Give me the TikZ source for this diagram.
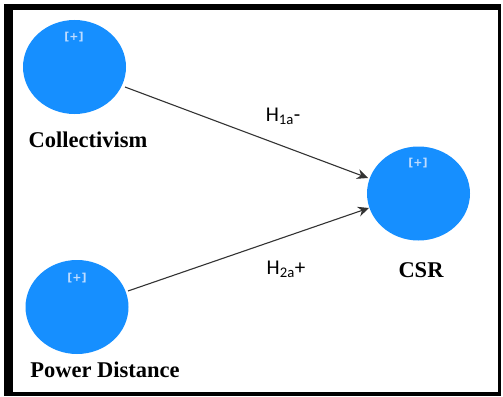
\documentclass[tikz,border=0pt]{standalone}
\usepackage{fontspec}
\setmainfont{Liberation Serif}
\newfontfamily\calib{Carlito}
\newfontfamily\dejav{DejaVu Sans}
\usetikzlibrary{arrows.meta,shapes.geometric}
\definecolor{lvblue}{RGB}{22,143,255}
\definecolor{plus}{RGB}{190,220,255}
\tikzset{
  lv/.style={ellipse, draw=none, fill=lvblue, minimum width=103pt, minimum height=94pt, inner sep=0pt},
  lvname/.style={font=\fontsize{22.5}{26}\selectfont\bfseries, text=black, inner sep=0pt},
  plusmark/.style={font=\dejav\fontsize{11}{13}\selectfont\bfseries, text=plus, inner sep=0pt},
  hyp/.style={font=\calib\fontsize{21}{24}\selectfont, inner sep=0pt},
  relpath/.style={draw=black!80, line width=1.1pt, -{Stealth[length=11pt,width=10pt]}}
}
\begin{document}
\begin{tikzpicture}[x=1pt,y=-1pt]
\useasboundingbox (0,0) rectangle (503,396);
\fill[black] (4,4) rectangle (501,396);
\fill[white] (13,10) rectangle (498,392);
\node[lv] (col) at (74.5,67) {};
\node[lv] (pd) at (77,307) {};
\node[lv] (csr) at (418.5,193.5) {};
\node[plusmark] (pcol) at (74,37) {[+]};
\node[plusmark] (ppd) at (77,278) {[+]};
\node[plusmark] (pcsr) at (418,163) {[+]};
\node[lvname] (tcol) at (88,140) {Collectivism};
\node[lvname] (tpd) at (105,370) {Power Distance};
\node[lvname] (tcsr) at (421,270) {CSR};
\coordinate (a1) at (125,87);
\coordinate (a2) at (368,178);
\coordinate (b1) at (128,291);
\coordinate (b2) at (369,208);
\draw[relpath] (a1) -- (a2);
\draw[relpath] (b1) -- (b2);
\node[hyp] (h1) at (283,116) {H\textsubscript{1a}-};
\node[hyp] (h2) at (286,269) {H\textsubscript{2a}+};
\end{tikzpicture}
\end{document}
